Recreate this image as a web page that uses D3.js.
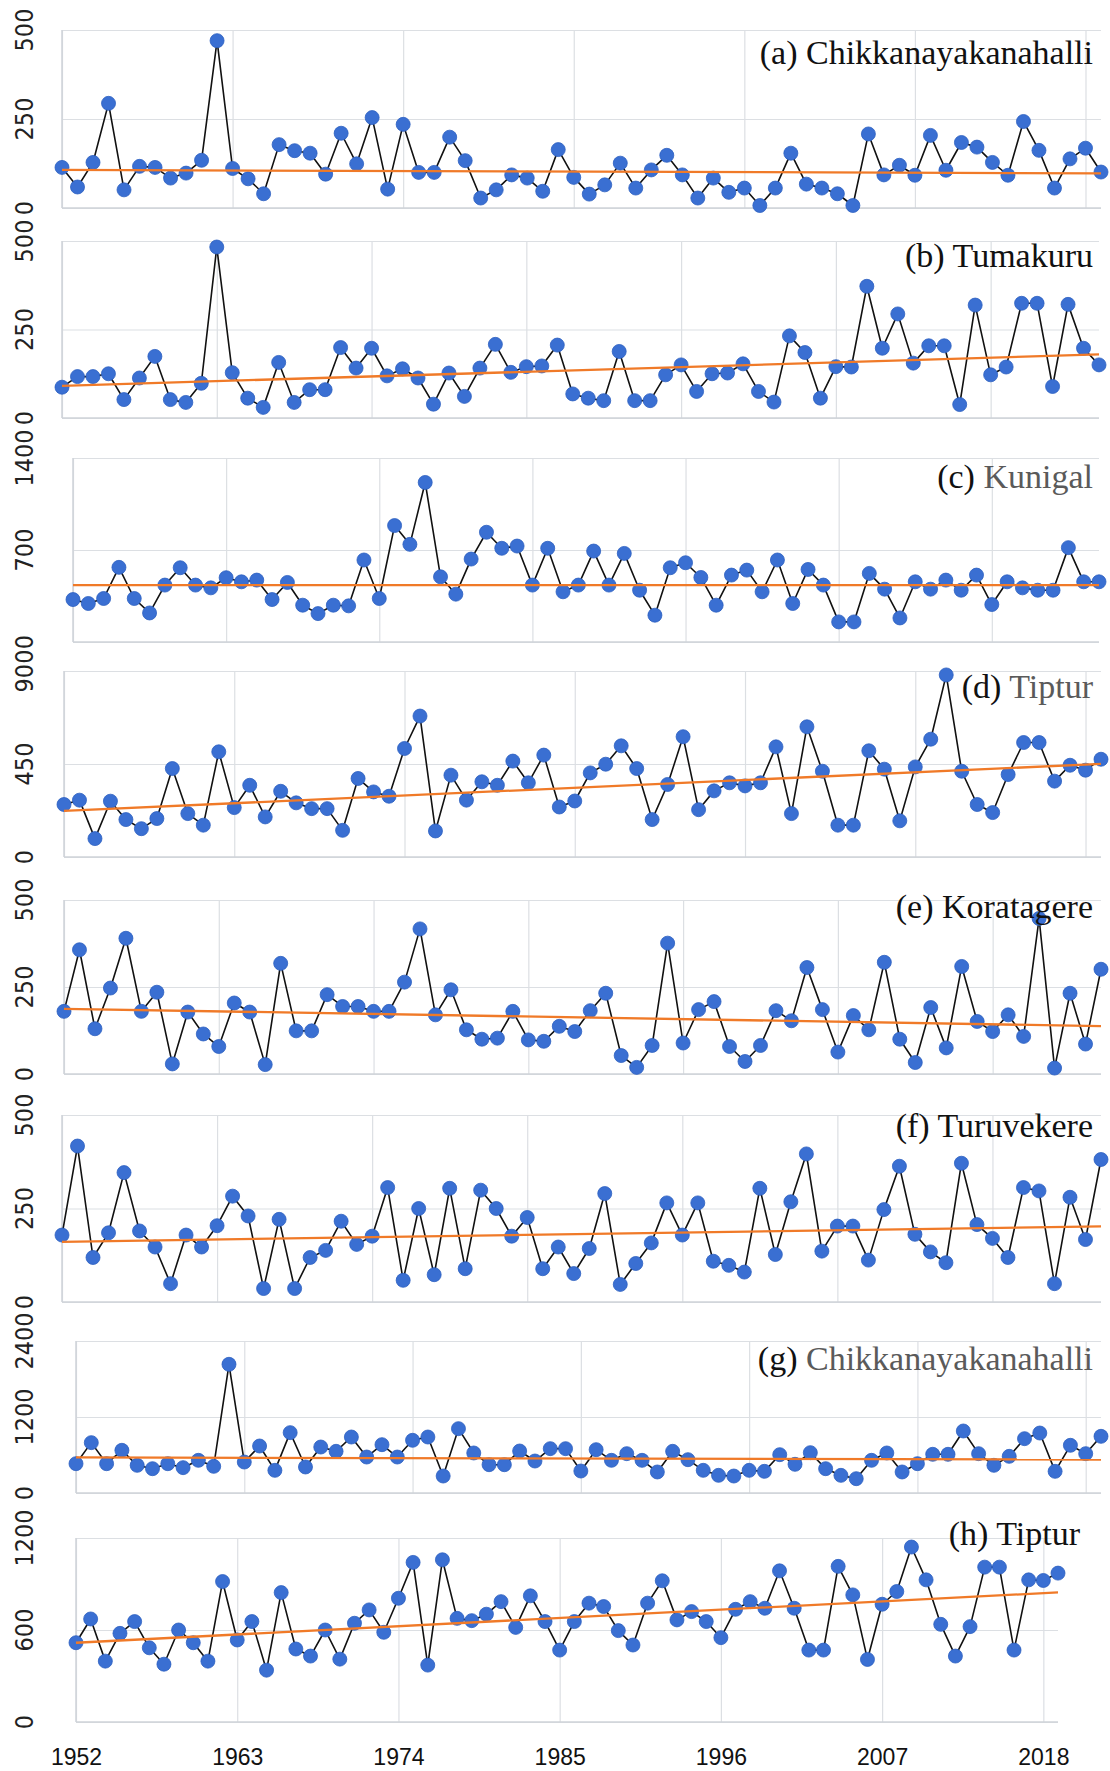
<!DOCTYPE html>
<html>
<head>
<meta charset="utf-8">
<script src="https://cdn.jsdelivr.net/npm/d3@7"></script>
<style>
  body { margin: 0; background: #fff; }
  svg { display: block; }
</style>
</head>
<body>
<svg id="chart" width="1110" height="1771"></svg>
<script>
// Years covered by every station series
const years = d3.range(1952, 2020);
const xTickYears = [1952, 1963, 1974, 1985, 1996, 2007, 2018];

// Station series (one value per year)
const chikkanayakanahalliA = [114,59,128,294,51,117,114,84,98,134,470,111,82,40,178,161,154,95,210,124,254,53,235,100,100,199,133,28,51,93,84,47,164,86,39,65,126,56,107,148,93,28,84,44,56,7,56,154,67,56,40,7,208,93,120,92,204,106,184,171,128,92,243,162,56,138,168,101];
const tumakuru = [87,117,117,125,52,113,174,52,44,98,483,128,56,30,157,44,80,80,199,141,197,119,139,113,39,127,61,141,208,129,145,147,206,68,56,49,188,49,49,122,150,75,125,127,153,75,45,232,185,56,145,144,372,197,294,155,204,204,38,319,122,144,324,324,89,321,197,150];
const kunigal = [323,293,331,568,331,221,433,565,433,412,489,458,471,323,453,280,216,280,275,624,331,886,743,1214,496,364,631,835,713,730,433,713,382,433,692,433,674,394,204,565,603,491,280,509,547,382,624,293,552,433,153,153,522,402,183,458,402,471,394,509,285,458,412,394,394,718,458,458];
const tipturD = [254,275,89,270,181,137,186,428,210,154,509,239,347,194,318,262,234,234,129,380,315,294,525,682,126,396,275,364,347,464,359,493,242,271,407,449,538,428,181,351,582,229,320,359,344,359,533,210,630,415,154,154,514,425,175,436,570,881,415,254,215,399,554,554,367,444,420,473];
const koratagere = [180,357,130,247,390,180,235,29,178,115,79,204,178,27,318,124,124,228,194,194,180,180,264,417,170,242,127,100,103,180,98,94,137,122,182,232,53,19,82,376,89,185,208,79,36,82,182,153,306,185,63,168,127,321,100,33,191,75,309,151,122,170,108,447,17,232,86,301];
const turuvekere = [179,417,119,185,346,190,147,49,179,147,204,283,230,36,221,36,119,138,216,154,176,306,58,250,73,304,89,299,250,176,226,89,147,76,143,290,47,103,158,265,179,265,109,98,80,304,127,268,396,136,203,203,112,247,363,181,134,105,371,207,170,119,306,297,49,280,167,381];
const chikkanayakanahalliG = [463,795,463,674,437,384,463,400,516,421,2032,489,742,358,953,411,726,658,884,568,763,568,832,884,268,1016,632,447,447,663,505,700,700,347,684,516,621,516,332,658,526,358,279,268,358,342,605,453,637,384,279,226,516,632,332,463,611,611,979,621,437,579,858,947,342,753,621,895];
const tipturH = [517,672,397,578,655,484,377,600,517,397,916,535,655,338,844,476,430,600,410,644,731,585,807,1041,371,1058,676,661,703,785,617,823,655,469,655,775,753,596,502,775,921,666,720,655,550,735,785,742,986,742,469,469,1015,829,408,768,851,1141,927,637,430,622,1010,1010,469,927,923,971];

// Panel labels and y-axis ticks
const panelTags  = ["(a)", "(b)", "(c)", "(d)", "(e)", "(f)", "(g)", "(h)"];
const panelNames = ["Chikkanayakanahalli", "Tumakuru", "Kunigal", "Tiptur", "Koratagere", "Turuvekere", "Chikkanayakanahalli", "Tiptur"];
const panelSeries = [chikkanayakanahalliA, tumakuru, kunigal, tipturD, koratagere, turuvekere, chikkanayakanahalliG, tipturH];
const yTicks = [[0,250,500],[0,250,500],[0,700,1400],[0,450,900],[0,250,500],[0,250,500],[0,1200,2400],[0,600,1200]];
const gridSteps = [11, 10, 10, 11, 10, 10, 11, 11];

// Plot boxes: left, right, top (max tick), bottom (zero); title anchor
const layout = [
  { l: 62, r: 1101, t: 30,   b: 208,  tx: 1093, ty: 64,   nameFill: "#111" },
  { l: 62, r: 1099, t: 241,  b: 418,  tx: 1093, ty: 267,  nameFill: "#111" },
  { l: 73, r: 1099, t: 458,  b: 642,  tx: 1093, ty: 488,  nameFill: "#5a5a5a" },
  { l: 64, r: 1101, t: 671,  b: 857,  tx: 1093, ty: 698,  nameFill: "#5a5a5a" },
  { l: 64, r: 1101, t: 900,  b: 1074, tx: 1093, ty: 918,  nameFill: "#111" },
  { l: 62, r: 1101, t: 1115, b: 1302, tx: 1093, ty: 1137, nameFill: "#111" },
  { l: 76, r: 1101, t: 1341, b: 1493, tx: 1093, ty: 1370, nameFill: "#5a5a5a" },
  { l: 76, r: 1058, t: 1538, b: 1722, tx: 1080, ty: 1545, nameFill: "#111" }
];

const svg = d3.select("#chart");
const gridColor = "#dcdfe3";

// Theil–Sen trend: median of pairwise slopes, median intercept
function senTrend(xs, ys) {
  const slopes = [];
  for (let i = 0; i < xs.length; i++) {
    for (let j = i + 1; j < xs.length; j++) {
      slopes.push((ys[j] - ys[i]) / (xs[j] - xs[i]));
    }
  }
  const slope = d3.median(slopes);
  const intercept = d3.median(xs.map((xv, i) => ys[i] - slope * xv));
  return { slope, intercept };
}

panelSeries.forEach((values, p) => {
  const L = layout[p];
  const ticks = yTicks[p];
  const x = d3.scaleLinear().domain([years[0], years[years.length - 1]]).range([L.l, L.r]);
  const y = d3.scaleLinear().domain([0, ticks[ticks.length - 1]]).range([L.b, L.t]);
  const g = svg.append("g");

  // horizontal gridlines
  const yAxis = g.append("g")
    .attr("transform", `translate(${L.l},0)`)
    .call(d3.axisLeft(y).tickValues(ticks).tickSize(-(L.r - L.l)).tickFormat(""));
  yAxis.select(".domain").remove();
  yAxis.selectAll(".tick line").attr("stroke", gridColor).attr("stroke-width", 1.2);

  // vertical gridlines at category marks
  const gridYears = d3.range(years[0], years[years.length - 1] + 1, gridSteps[p]);
  const xGrid = g.append("g")
    .attr("transform", `translate(0,${L.b})`)
    .call(d3.axisBottom(x).tickValues(gridYears).tickSize(-(L.b - L.t)).tickFormat(""));
  xGrid.select(".domain").remove();
  xGrid.selectAll(".tick line").attr("stroke", gridColor).attr("stroke-width", 1.2);

  // left edge and baseline
  g.append("line")
    .attr("x1", L.l).attr("x2", L.l).attr("y1", y(0)).attr("y2", L.t)
    .attr("stroke", "#cfd3d8").attr("stroke-width", 1.5);
  g.append("line")
    .attr("x1", L.l).attr("x2", L.r).attr("y1", y(0)).attr("y2", y(0))
    .attr("stroke", "#cfd3d8").attr("stroke-width", 1.5);

  // rotated y tick labels
  g.selectAll("text.ylab").data(ticks).join("text")
    .attr("class", "ylab")
    .attr("transform", d => `translate(24,${y(d)}) rotate(-90)`)
    .attr("text-anchor", "middle")
    .attr("dy", "0.36em")
    .style("font-family", "'Liberation Sans Narrow', 'DejaVu Sans Condensed', 'Liberation Sans', sans-serif")
    .style("font-size", "25px")
    .style("fill", "#222")
    .text(d => d);

  // series line
  const line = d3.line().x((d, i) => x(years[i])).y(d => y(d));
  g.append("path")
    .datum(values)
    .attr("d", line)
    .attr("fill", "none")
    .attr("stroke", "#111")
    .attr("stroke-width", 1.6)
    .attr("stroke-linejoin", "round");

  // markers
  g.selectAll("circle").data(values).join("circle")
    .attr("cx", (d, i) => x(years[i]))
    .attr("cy", d => y(d))
    .attr("r", 7)
    .attr("fill", "#3a6fd2")
    .attr("stroke", "#2c5fc0")
    .attr("stroke-width", 0.8);

  // trend line
  const fit = senTrend(years, values);
  const x0 = years[0], x1 = years[years.length - 1];
  g.append("line")
    .attr("x1", x(x0)).attr("y1", y(fit.intercept + fit.slope * x0))
    .attr("x2", x(x1)).attr("y2", y(fit.intercept + fit.slope * x1))
    .attr("stroke", "#f07a28")
    .attr("stroke-width", 2.3);

  // panel title
  const title = g.append("text")
    .attr("x", L.tx).attr("y", L.ty)
    .attr("text-anchor", "end")
    .style("font-family", "'Liberation Serif', 'Times New Roman', serif")
    .style("font-size", "34px");
  title.append("tspan").style("fill", "#111").text(panelTags[p] + " ");
  title.append("tspan").style("fill", L.nameFill).text(panelNames[p]);

  // year axis under the last panel
  if (p === panelSeries.length - 1) {
    const xAxis = g.append("g")
      .attr("transform", `translate(0,${L.b})`)
      .call(d3.axisBottom(x).tickValues(xTickYears).tickFormat(d3.format("d")).tickSize(0).tickPadding(27));
    xAxis.select(".domain").remove();
    xAxis.selectAll("text")
      .style("font-family", "'Liberation Sans', Arial, sans-serif")
      .style("font-size", "23px")
      .style("fill", "#111");
  }
});
</script>
</body>
</html>
